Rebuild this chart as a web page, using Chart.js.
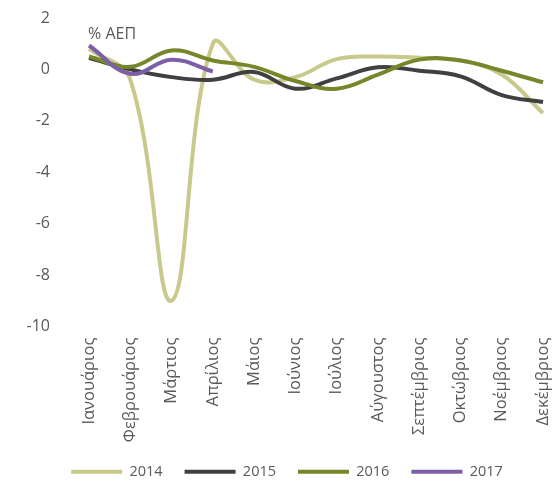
<!DOCTYPE html>
<html>
<head>
<meta charset="utf-8">
<script src="https://cdn.jsdelivr.net/npm/chart.js@4/dist/chart.umd.min.js"></script>
<style>
  body { margin: 0; background: #fff; }
</style>
</head>
<body>
<canvas id="gdpChart" width="553" height="486"></canvas>
<script>
const months = ['Ιανουάριος','Φεβρουάριος','Μάρτιος','Απρίλιος','Μάιος','Ιούνιος',
                'Ιούλιος','Αύγουστος','Σεπτέμβριος','Οκτώβριος','Νοέμβριος','Δεκέμβριος'];
const y2014 = [0.8, -0.4, -9.0, 1.0, -0.4, -0.3, 0.4, 0.5, 0.45, 0.35, -0.2, -1.7];
const y2015 = [0.45, 0.0, -0.3, -0.4, -0.1, -0.75, -0.35, 0.08, -0.05, -0.27, -1.0, -1.27];
const y2016 = [0.5, 0.1, 0.74, 0.35, 0.1, -0.45, -0.75, -0.2, 0.38, 0.35, -0.05, -0.5];
const y2017 = [0.93, -0.17, 0.38, -0.08];
const yTicks = [2, 0, -2, -4, -6, -8, -10];

const font = "'Open Sans', sans-serif";
const textColor = '#595959';

// "% ΑΕΠ" note in the top left corner of the plot
const unitLabel = {
    id: 'unitLabel',
    afterDraw(chart) {
        const c = chart.ctx;
        c.save();
        c.font = '16px ' + font;
        c.fillStyle = textColor;
        c.textBaseline = 'middle';
        c.fillText('% ΑΕΠ', chart.chartArea.left - 1, chart.chartArea.top + 16);
        c.restore();
    }
};

// the legend sits a little right of the canvas centre
const nudgeLegend = {
    id: 'nudgeLegend',
    afterLayout(chart) {
        chart.legend.left += 4;
        chart.legend.right += 4;
    }
};

const mkSet = (label, data, color, order) => ({
    label: label,
    data: data,
    borderColor: color,
    backgroundColor: color,
    borderWidth: 4,
    pointRadius: 0,
    tension: 0.4,
    fill: false,
    order: order
});

const ctx = document.getElementById('gdpChart').getContext('2d');
let gdpChart = new Chart(ctx, {
    type: 'line',
    data: {
        labels: months,
        datasets: [
            mkSet('2014', y2014, '#c9c98b', 4),
            mkSet('2015', y2015, '#404040', 3),
            mkSet('2016', y2016, '#77862a', 2),
            mkSet('2017', y2017, '#7d5fa8', 1)
        ]
    },
    options: {
        responsive: false,
        animation: false,
        layout: { padding: { top: 18, right: 10, left: 23, bottom: -3 } },
        plugins: {
            tooltip: { enabled: false },
            legend: {
                position: 'bottom',
                labels: {
                    color: textColor,
                    font: { family: font, size: 14.5 },
                    usePointStyle: true,
                    pointStyle: 'line',
                    pointStyleWidth: 51,
                    boxHeight: 4,
                    padding: 22,
                    sort: (a, b) => a.datasetIndex - b.datasetIndex
                }
            }
        },
        scales: {
            x: {
                offset: false,
                grid: { display: false, drawTicks: false },
                border: { display: false },
                ticks: {
                    color: textColor,
                    font: { family: font, size: 16.5 },
                    minRotation: 90,
                    maxRotation: 90,
                    autoSkip: false,
                    padding: 11
                },
                afterFit: axis => {
                    axis.height = 116;
                    axis.paddingLeft = 0;
                    axis.paddingRight = 0;
                }
            },
            y: {
                min: -10,
                max: 2,
                afterBuildTicks: axis => { axis.ticks = yTicks.map(v => ({ value: v })); },
                grid: { display: false, drawTicks: false },
                border: { display: false },
                ticks: {
                    color: textColor,
                    font: { family: font, size: 16 },
                    padding: 39
                },
                afterFit: axis => {
                    axis.width = 66;
                    axis.paddingTop = 0;
                    axis.paddingBottom = 0;
                }
            }
        }
    },
    plugins: [unitLabel, nudgeLegend]
});
</script>
</body>
</html>
